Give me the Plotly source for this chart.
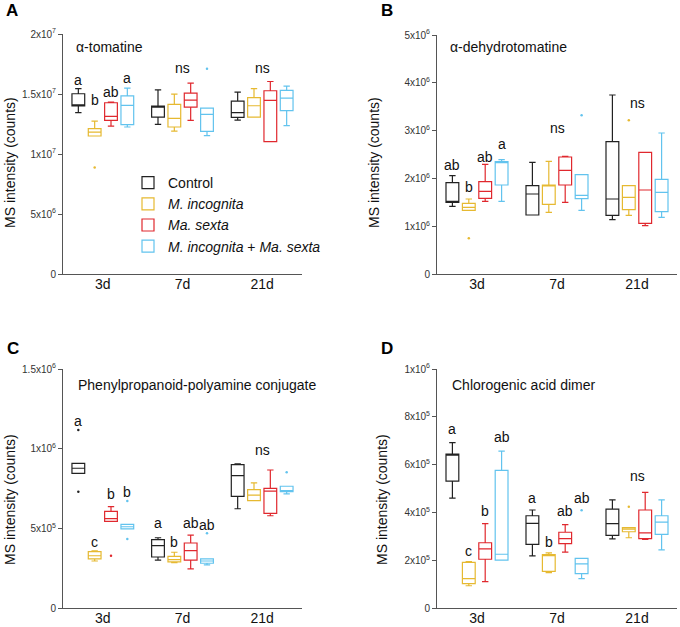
import plotly.graph_objects as go

days = ["3d", "7d", "21d"]
groups = ["Control", "<i>M. incognita</i>", "<i>Ma. sexta</i>",
          "<i>M. incognita</i> + <i>Ma. sexta</i>"]
colors = ["#222222", "#E6B931", "#E0282E", "#62C3EE"]

# panel A: alpha-tomatine (x1e7 counts); rows = groups, cols = days
tom_low = [[1.344, 1.247, 1.283], [1.150, 1.191, 1.308], [1.233, 1.280, 1.103], [1.225, 1.153, 1.236]]
tom_q1 = [[1.400, 1.308, 1.305], [1.150, 1.225, 1.308], [1.280, 1.391, 1.103], [1.244, 1.189, 1.361]]
tom_med = [[1.410, 1.391, 1.344], [1.183, 1.297, 1.402], [1.313, 1.449, 1.447], [1.405, 1.330, 1.466]]
tom_q3 = [[1.502, 1.399, 1.441], [1.211, 1.413, 1.469], [1.427, 1.507, 1.527], [1.485, 1.383, 1.530]]
tom_high = [[1.544, 1.535, 1.515], [1.274, 1.499, 1.544], [1.432, 1.590, 1.604], [1.549, 1.383, 1.565]]
tom_out = [[[], [], []], [[0.887], [], []], [[], [], []], [[], [1.71], []]]
tom_letters = [["a", "", ""], ["b", "", ""], ["ab", "", ""], ["a", "", ""]]
tom_letter_y = [[1.62, 0, 0], [1.446, 0, 0], [1.52, 0, 0], [1.63, 0, 0]]
tom_ns_y = [None, 1.72, 1.72]

# panel B: alpha-dehydrotomatine (x1e6 counts)
deh_low = [[1.416, 1.234, 1.136], [1.332, 1.290, 1.228], [1.520, 1.499, 1.011], [1.520, 1.332, 1.186]]
deh_q1 = [[1.499, 1.234, 1.228], [1.332, 1.458, 1.346], [1.583, 1.862, 1.060], [1.862, 1.576, 1.304]]
deh_med = [[1.510, 1.674, 1.569], [1.395, 1.850, 1.604], [1.730, 2.169, 1.757], [2.330, 1.646, 1.709]]
deh_q3 = [[1.911, 1.847, 2.768], [1.479, 1.862, 1.847], [1.931, 2.448, 2.545], [2.350, 2.078, 1.981]]
deh_high = [[2.057, 2.336, 3.745], [1.569, 2.357, 1.847], [2.294, 2.462, 2.545], [2.392, 2.078, 2.950]]
deh_out = [[[], [], []], [[0.746], [], [3.215]], [[], [], []], [[], [3.32], []]]
deh_letters = [["ab", "", ""], ["b", "", ""], ["ab", "", ""], ["a", "", ""]]
deh_letter_y = [[2.27, 0, 0], [1.81, 0, 0], [2.45, 0, 0], [2.71, 0, 0]]
deh_ns_y = [None, 3.05, 3.57]

# panel C: phenylpropanoid-polyamine conjugate (x1e6 counts)
php_low = [[0.845, 0.301, 0.623], [0.295, 0.285, 0.674], [0.544, 0.245, 0.579], [0.496, 0.271, 0.716]]
php_q1 = [[0.845, 0.320, 0.701], [0.308, 0.289, 0.674], [0.544, 0.301, 0.594], [0.496, 0.281, 0.730]]
php_med = [[0.877, 0.391, 0.831], [0.328, 0.303, 0.709], [0.561, 0.360, 0.733], [0.510, 0.295, 0.735]]
php_q3 = [[0.908, 0.429, 0.900], [0.354, 0.324, 0.743], [0.607, 0.408, 0.751], [0.525, 0.308, 0.764]]
php_high = [[0.908, 0.441, 0.904], [0.358, 0.350, 0.785], [0.636, 0.458, 0.866], [0.525, 0.308, 0.764]]
php_out = [[[1.117, 0.730], [], []], [[], [], []], [[0.328], [], []], [[0.672, 0.433], [0.469], [0.852]]]
php_letters = [["a", "a", ""], ["c", "b", ""], ["b", "ab", ""], ["b", "ab", ""]]
php_letter_y = [[1.174, 0.532, 0], [0.416, 0.416, 0], [0.716, 0.532, 0], [0.730, 0.521, 0]]
php_ns_y = [None, None, 0.992]

# panel D: chlorogenic acid dimer (x1e5 counts)
cga_low = [[4.60, 2.18, 2.89], [0.93, 1.48, 2.94], [1.10, 2.34, 2.87], [2.00, 1.23, 2.43]]
cga_q1 = [[5.31, 2.66, 3.04], [1.02, 1.53, 3.19], [2.04, 2.69, 2.90], [2.00, 1.44, 3.08]]
cga_med = [[6.40, 3.54, 3.53], [1.23, 2.19, 3.30], [2.47, 2.90, 3.14], [2.25, 1.85, 3.59]]
cga_q3 = [[6.44, 3.86, 4.14], [1.91, 2.23, 3.36], [2.73, 3.17, 4.10], [5.76, 2.08, 3.86]]
cga_high = [[6.92, 4.10, 4.52], [1.94, 2.31, 3.36], [3.53, 3.49, 4.84], [6.56, 2.08, 4.52]]
cga_out = [[[], [], []], [[], [], [4.24]], [[], [], []], [[], [4.09], []]]
cga_letters = [["a", "a", ""], ["c", "b", ""], ["b", "ab", ""], ["ab", "ab", ""]]
cga_letter_y = [[7.48, 4.59, 0], [2.40, 2.75, 0], [4.07, 4.07, 0], [7.17, 4.59, 0]]
cga_ns_y = [None, None, 5.52]

FONT = "Arial, Liberation Sans, sans-serif"

panels = [
    dict(tag="A", name="α-tomatine", scale=1e7, data=(tom_low, tom_q1, tom_med, tom_q3, tom_high, tom_out),
         letters=tom_letters, letter_y=tom_letter_y, ns=tom_ns_y,
         ticks=[0, 5e6, 1e7, 1.5e7, 2e7],
         ticktext=["0", "5x10<sup>6</sup>", "1x10<sup>7</sup>", "1.5x10<sup>7</sup>", "2x10<sup>7</sup>"],
         xdom=(63, 302), ydom=(34, 274), title_xy=(74, 47), ytitle_xy=(10, 163)),
    dict(tag="B", name="α-dehydrotomatine", scale=1e6, data=(deh_low, deh_q1, deh_med, deh_q3, deh_high, deh_out),
         letters=deh_letters, letter_y=deh_letter_y, ns=deh_ns_y,
         ticks=[0, 1e6, 2e6, 3e6, 4e6, 5e6],
         ticktext=["0"] + ["%dx10<sup>6</sup>" % i for i in range(1, 6)],
         xdom=(437, 677), ydom=(35, 274), title_xy=(448, 47), ytitle_xy=(374, 163)),
    dict(tag="C", name="Phenylpropanoid-polyamine conjugate", scale=1e6,
         data=(php_low, php_q1, php_med, php_q3, php_high, php_out),
         letters=php_letters, letter_y=php_letter_y, ns=php_ns_y,
         ticks=[0, 5e5, 1e6, 1.5e6],
         ticktext=["0", "5x10<sup>5</sup>", "1x10<sup>6</sup>", "1.5x10<sup>6</sup>"],
         xdom=(63, 302), ydom=(369, 608), title_xy=(76, 385), ytitle_xy=(10, 500)),
    dict(tag="D", name="Chlorogenic acid dimer", scale=1e5, data=(cga_low, cga_q1, cga_med, cga_q3, cga_high, cga_out),
         letters=cga_letters, letter_y=cga_letter_y, ns=cga_ns_y,
         ticks=[0, 2e5, 4e5, 6e5, 8e5, 1e6],
         ticktext=["0", "2x10<sup>5</sup>", "4x10<sup>5</sup>", "6x10<sup>5</sup>", "8x10<sup>5</sup>", "1x10<sup>6</sup>"],
         xdom=(437, 677), ydom=(369, 608), title_xy=(450, 385), ytitle_xy=(382, 500)),
]
tag_xy = {"A": (12, 10), "B": (387, 10), "C": (13, 348), "D": (387, 348)}

W, H = 680, 627
fig = go.Figure()
annotations = []
slot = 0.205  # spacing of the four boxes inside one day group
day_pos = [0, 1, 2]

for p_i, p in enumerate(panels):
    n = "" if p_i == 0 else str(p_i + 1)
    xa, ya = "x" + n, "y" + n
    low, q1, med, q3, high, out = p["data"]
    s = p["scale"]
    for g in range(4):
        off = (g - 1.5) * slot
        fig.add_trace(go.Box(
            x=[d + off for d in day_pos],
            lowerfence=[v * s for v in low[g]],
            q1=[v * s for v in q1[g]],
            median=[v * s for v in med[g]],
            q3=[v * s for v in q3[g]],
            upperfence=[v * s for v in high[g]],
            width=0.16,
            boxpoints=False,
            line=dict(color=colors[g], width=1.2),
            fillcolor="rgba(0,0,0,0)",
            whiskerwidth=0.5,
            name=groups[g], legendgroup=groups[g], showlegend=(p_i == 0),
            xaxis=xa, yaxis=ya, hoverinfo="skip",
        ))
        ox, oy = [], []
        for d in range(3):
            for v in out[g][d]:
                ox.append(day_pos[d] + off)
                oy.append(v * s)
        if ox:
            fig.add_trace(go.Scatter(
                x=ox, y=oy, mode="markers", marker=dict(color=colors[g], size=2.5),
                showlegend=False, legendgroup=groups[g], xaxis=xa, yaxis=ya, hoverinfo="skip"))
        for d in range(3):
            if p["letters"][g][d]:
                annotations.append(dict(
                    x=day_pos[d] + off, y=p["letter_y"][g][d] * s, xref=xa, yref=ya,
                    text=p["letters"][g][d], showarrow=False,
                    font=dict(size=14, color="#111"), yanchor="middle"))
    for d in range(3):
        if p["ns"][d] is not None:
            annotations.append(dict(
                x=day_pos[d], y=p["ns"][d] * s, xref=xa, yref=ya, text="ns", showarrow=False,
                font=dict(size=14, color="#111"), yanchor="middle"))

    x0, x1 = p["xdom"]
    y0, y1 = p["ydom"]
    fig.layout[("xaxis" + n)] = dict(
        domain=[x0 / W, x1 / W], anchor=ya, automargin=False,
        range=[-0.5, 2.5], tickvals=day_pos, ticktext=days,
        showline=True, linecolor="#555", linewidth=1, ticks="",
        ticklabelstandoff=-3,
        showgrid=False, zeroline=False, tickfont=dict(size=14, color="#111", family=FONT))
    fig.layout[("yaxis" + n)] = dict(
        domain=[1 - y1 / H, 1 - y0 / H], anchor=xa, automargin=False,
        range=[0, p["ticks"][-1]], tickvals=p["ticks"], ticktext=p["ticktext"],
        showline=True, linecolor="#555", linewidth=1, ticks="outside", ticklen=4,
        tickcolor="#555", showgrid=False, zeroline=False,
        tickfont=dict(size=10, color="#333", family=FONT))

    tx, ty = p["title_xy"]
    annotations.append(dict(x=tx / W, y=1 - ty / H, xref="paper", yref="paper",
                            text=p["name"], showarrow=False, xanchor="left", yanchor="middle",
                            font=dict(size=14, color="#111")))
    yx, yy = p["ytitle_xy"]
    annotations.append(dict(x=yx / W, y=1 - yy / H, xref="paper", yref="paper",
                            text="MS intensity (counts)", textangle=-90, showarrow=False,
                            xanchor="center", yanchor="middle", font=dict(size=14, color="#111")))
    lx, ly = tag_xy[p["tag"]]
    annotations.append(dict(x=lx / W, y=1 - ly / H, xref="paper", yref="paper",
                            text="<b>" + p["tag"] + "</b>", showarrow=False,
                            xanchor="center", yanchor="middle", font=dict(size=17, color="#000")))

fig.update_layout(
    width=W, height=H,
    margin=dict(l=0, r=0, t=0, b=0, autoexpand=False),
    paper_bgcolor="white", plot_bgcolor="white",
    font=dict(family=FONT, color="#111"),
    annotations=annotations,
    legend=dict(x=128 / W, y=1 - 167 / H, xanchor="left", yanchor="top",
                font=dict(size=14, color="#111"), bgcolor="rgba(0,0,0,0)",
                tracegroupgap=0, itemwidth=30),
)

# the page body has a default 8px margin; drop it so the figure fills the window
fig.write_html("out.html", config={"displayModeBar": False},
               post_script="document.body.style.margin = '0';")
